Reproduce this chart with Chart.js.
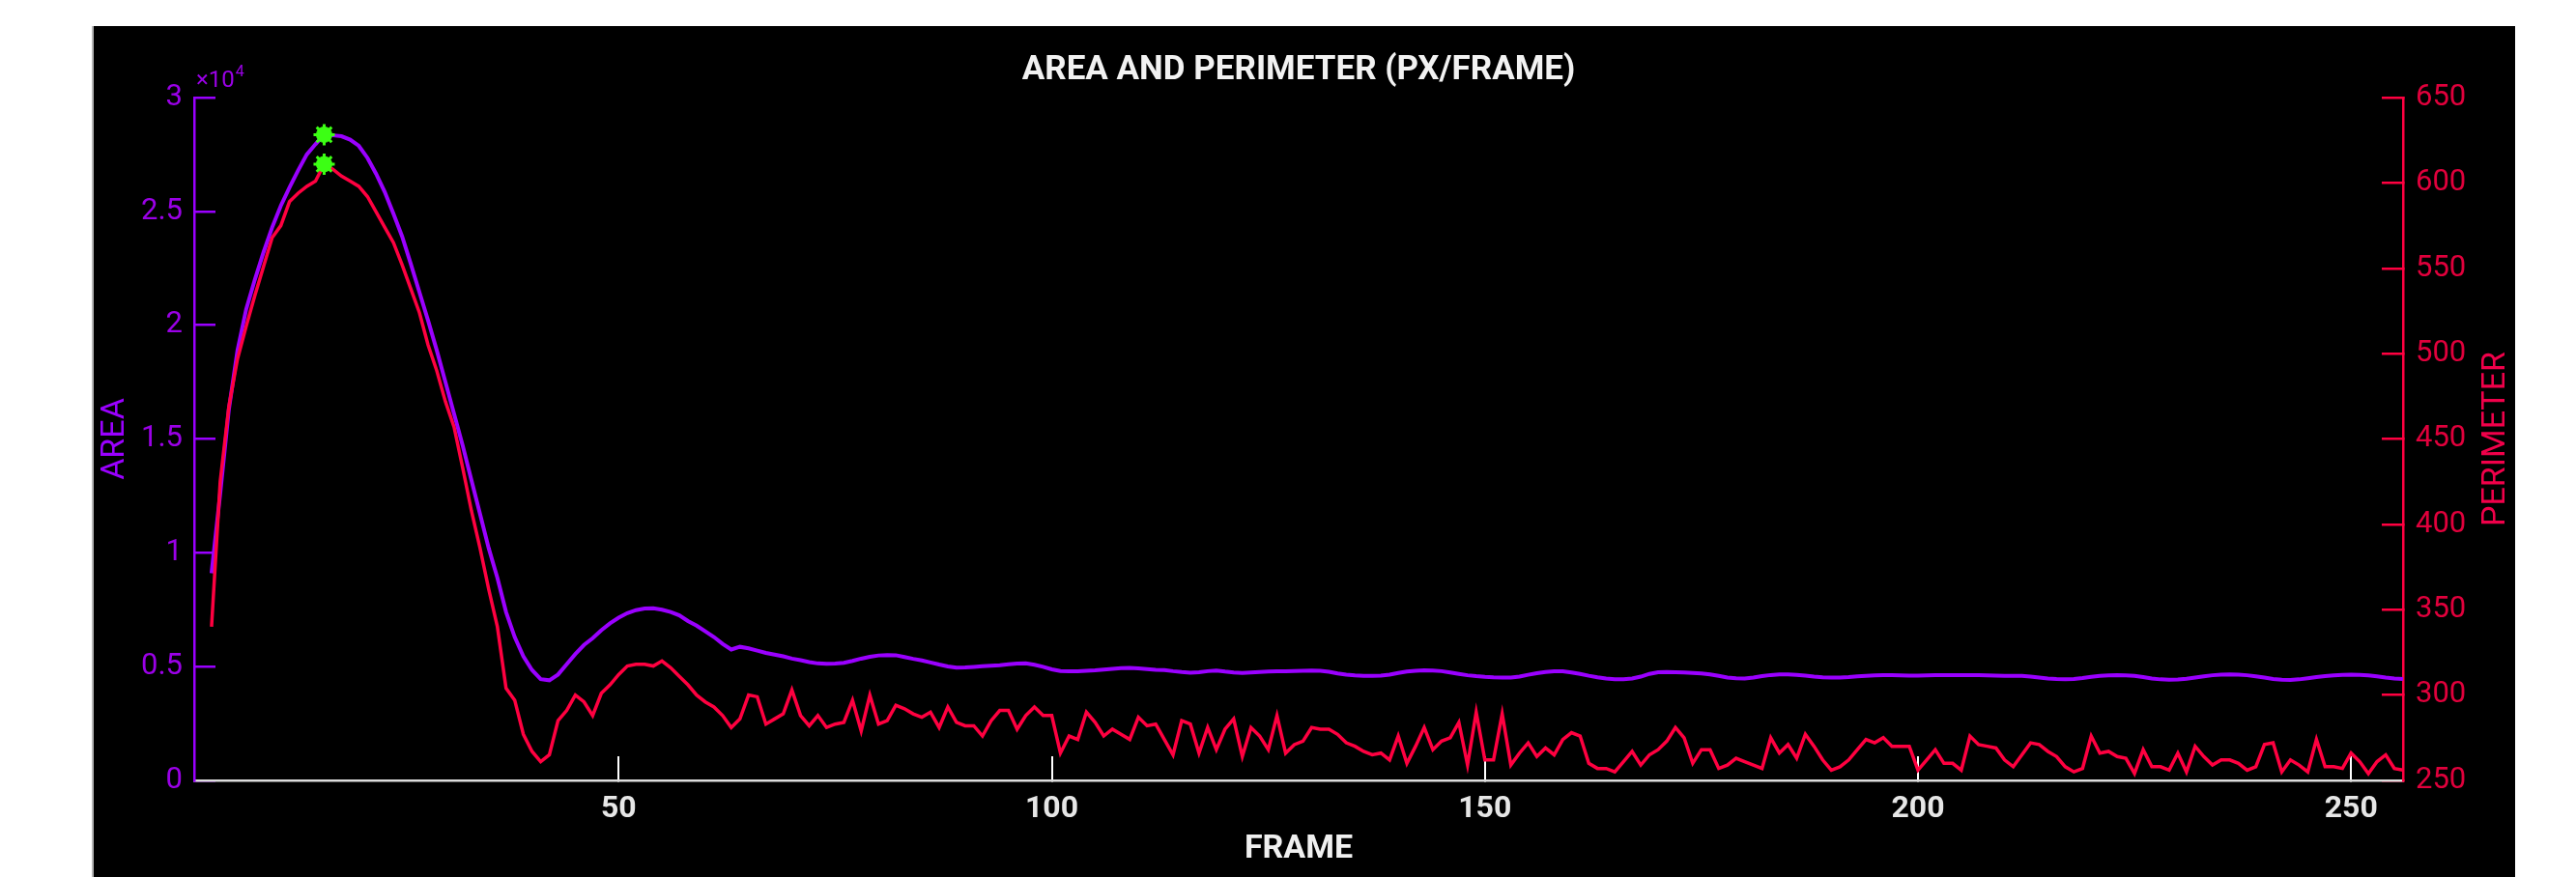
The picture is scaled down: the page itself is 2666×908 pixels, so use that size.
<!DOCTYPE html>
<html>
<head>
<meta charset="utf-8">
<script src="https://cdn.jsdelivr.net/npm/chart.js@4.4.0/dist/chart.umd.min.js"></script>
<style>
    html, body { margin: 0; padding: 0; background: #fff; }
    #wrap { width: 2666px; height: 908px; }
</style>
</head>
<body>
<div id="wrap"><canvas id="chart" width="2666" height="908"></canvas></div>
<script>
// frame number of the first sample
const firstFrame = 3;

// area per frame (px), frames 3..256
const areaValues = [
    9100, 12600, 16300, 18900, 20700, 22000, 23200, 24300, 25250, 26050,
    26800, 27500, 27950, 28370, 28340, 28300, 28150, 27880, 27350, 26650,
    25850, 24900, 23900, 22700, 21450, 20200, 18900, 17500, 16100, 14700,
    13200, 11700, 10200, 8900, 7400, 6300, 5450, 4850, 4450, 4400,
    4650, 5100, 5550, 5950, 6250, 6600, 6900, 7150, 7350, 7480,
    7550, 7560, 7500, 7400, 7250, 7000, 6800, 6550, 6300, 6000,
    5750, 5870, 5800, 5700, 5600, 5530, 5450, 5350, 5280, 5200,
    5140, 5120, 5130, 5170, 5250, 5350, 5430, 5490, 5510, 5500,
    5420, 5340, 5270, 5180, 5090, 5010, 4950, 4960, 4990, 5020,
    5040, 5060, 5100, 5130, 5140, 5080, 4990, 4880, 4810, 4790,
    4800, 4820, 4840, 4870, 4900, 4930, 4940, 4920, 4890, 4860,
    4850, 4800, 4760, 4730, 4750, 4800, 4830, 4780, 4740, 4720,
    4740, 4760, 4780, 4790, 4800, 4810, 4820, 4830, 4820, 4770,
    4700, 4650, 4610, 4590, 4590, 4600, 4650, 4720, 4780, 4820,
    4840, 4830, 4800, 4740, 4680, 4620, 4580, 4550, 4530, 4520,
    4520, 4560, 4640, 4710, 4760, 4790, 4790, 4740, 4680, 4600,
    4530, 4480, 4450, 4450, 4480, 4560, 4680, 4750, 4760, 4750,
    4740, 4720, 4700, 4660, 4590, 4520, 4490, 4480, 4520, 4580,
    4630, 4660, 4660, 4640, 4600, 4560, 4530, 4520, 4520, 4540,
    4570, 4590, 4610, 4620, 4620, 4610, 4600, 4600, 4610, 4620,
    4620, 4620, 4620, 4620, 4620, 4610, 4600, 4590, 4590, 4590,
    4560, 4520, 4480, 4460, 4450, 4460, 4500, 4550, 4590, 4610,
    4620, 4610, 4590, 4540, 4480, 4440, 4420, 4430, 4470, 4520,
    4570, 4620, 4650, 4660, 4650, 4620, 4570, 4520, 4460, 4420,
    4410, 4440, 4490, 4540, 4580, 4610, 4640, 4650, 4640, 4610,
    4570, 4520, 4480, 4450
];

// perimeter per frame (px), frames 3..256
const perimeterValues = [
    340, 425, 469, 497, 516, 534, 551, 568, 575, 589,
    594, 598, 601, 611, 608, 604, 601, 598, 592, 583,
    574, 565, 552, 538, 524, 505, 490, 472, 457, 433,
    408, 386, 362, 340, 304, 297, 277, 267, 261, 265,
    285, 291, 300, 296, 288, 301, 306, 312, 317, 318,
    318, 317, 320, 316, 311, 306, 300, 296, 293, 288,
    281, 286, 300, 299, 283, 286, 289, 303, 288, 282,
    288, 281, 283, 284, 297, 279, 300, 283, 285, 294,
    292, 289, 287, 290, 281, 293, 284, 282, 282, 276,
    285, 291, 291, 280, 288, 293, 288, 288, 266, 276,
    274, 290, 284, 276, 280, 277, 274, 287, 282, 283,
    274, 265, 285, 283, 266, 281, 268, 280, 286, 264,
    281, 276, 268, 288, 266, 271, 273, 281, 280, 280,
    277, 272, 270, 267, 265, 266, 262, 276, 260, 270,
    281, 268, 273, 275, 284, 259, 290, 262, 262, 289,
    259, 266, 272, 264, 269, 265, 274, 278, 276, 260,
    257, 257, 255, 261, 267, 259, 265, 268, 273, 281,
    275, 260, 268, 268, 257, 259, 263, 261, 259, 257,
    275, 266, 271, 263, 277, 270, 262, 256, 258, 262,
    268, 274, 272, 275, 270, 270, 270, 256, 262, 268,
    260, 260, 256, 276, 271, 270, 269, 262, 258, 265,
    272, 271, 267, 264, 258, 255, 257, 276, 266, 267,
    264, 263, 254, 268, 258, 258, 256, 266, 255, 270,
    264, 259, 262, 262, 260, 256, 258, 271, 272, 255,
    262, 259, 255, 274, 258, 258, 257, 266, 261, 254,
    261, 265, 257, 256
];

// axis ranges and tick steps
const frameRange = [1, 256];
const frameStep = 50;
const areaRange = [0, 30000];
const areaStep = 5000;
const perimeterRange = [250, 650];
const perimeterStep = 50;

const PURPLE = '#9a00ff';
const PURPLE_TXT = '#9a00e6';
const RED = '#ff0040';
const RED_TXT = '#e0003c';
const GREEN = '#3cff14';
const FONT = 'Roboto';

function toPoints(values) {
    return values.map((v, i) => ({ x: firstFrame + i, y: v }));
}

function peakPoint(values) {
    let best = 0;
    for (let i = 1; i < values.length; i++) {
        if (values[i] > values[best]) best = i;
    }
    return [{ x: firstFrame + best, y: values[best] }];
}

// black figure panel behind the axes
const panelPlugin = {
    id: 'panel',
    beforeDraw(chart) {
        const ctx = chart.ctx;
        ctx.save();
        ctx.fillStyle = '#ffffff';
        ctx.fillRect(0, 0, chart.width, chart.height);
        ctx.fillStyle = '#000000';
        ctx.fillRect(97, 27, 2506, 881);
        ctx.fillStyle = '#b4b4b4';
        ctx.fillRect(95, 27, 2, 881);
        ctx.restore();
    }
};

// "x10^4" exponent above the area axis, and the PERIMETER title read bottom-up
const extrasPlugin = {
    id: 'extras',
    afterDraw(chart) {
        const ctx = chart.ctx;
        const { left, top, bottom } = chart.chartArea;
        ctx.save();
        ctx.fillStyle = PURPLE_TXT;
        ctx.textBaseline = 'alphabetic';
        ctx.font = '24px ' + FONT;
        ctx.fillText('\u00d710', left + 2, top - 11);
        const w = ctx.measureText('\u00d710').width;
        ctx.font = '16px ' + FONT;
        ctx.fillText('4', left + 3 + w, top - 22);

        const yP = chart.scales.yP;
        ctx.translate(yP.right - 83, (top + bottom) / 2);
        ctx.rotate(-Math.PI / 2);
        ctx.fillStyle = '#f0004a';
        ctx.font = '34px ' + FONT;
        ctx.textAlign = 'center';
        ctx.textBaseline = 'middle';
        ctx.fillText('PERIMETER', 0, 0);
        ctx.restore();
    }
};

const ctx = document.getElementById('chart').getContext('2d');
new Chart(ctx, {
    type: 'line',
    data: {
        datasets: [
            {
                label: 'Area peak',
                data: peakPoint(areaValues),
                yAxisID: 'yA',
                showLine: false,
                pointStyle: 'circle',
                pointRadius: 8,
                pointBackgroundColor: GREEN,
                pointBorderColor: GREEN,
                pointBorderWidth: 1,
                order: 0
            },
            {
                label: 'Area peak star',
                data: peakPoint(areaValues),
                yAxisID: 'yA',
                showLine: false,
                pointStyle: 'star',
                pointRadius: 11,
                pointBorderColor: GREEN,
                pointBorderWidth: 3,
                order: 0
            },
            {
                label: 'Perimeter peak',
                data: peakPoint(perimeterValues),
                yAxisID: 'yP',
                showLine: false,
                pointStyle: 'circle',
                pointRadius: 8,
                pointBackgroundColor: GREEN,
                pointBorderColor: GREEN,
                pointBorderWidth: 1,
                order: 0
            },
            {
                label: 'Perimeter peak star',
                data: peakPoint(perimeterValues),
                yAxisID: 'yP',
                showLine: false,
                pointStyle: 'star',
                pointRadius: 11,
                pointBorderColor: GREEN,
                pointBorderWidth: 3,
                order: 0
            },
            {
                label: 'Perimeter',
                data: toPoints(perimeterValues),
                yAxisID: 'yP',
                borderColor: RED,
                borderWidth: 3.5,
                pointRadius: 0,
                tension: 0,
                order: 1
            },
            {
                label: 'Area',
                data: toPoints(areaValues),
                yAxisID: 'yA',
                borderColor: PURPLE,
                borderWidth: 4,
                pointRadius: 0,
                tension: 0,
                order: 2
            }
        ]
    },
    options: {
        responsive: false,
        animation: false,
        devicePixelRatio: 1,
        layout: { padding: 0 },
        plugins: {
            legend: { display: false },
            tooltip: { enabled: false },
            title: {
                display: true,
                fullSize: false,
                text: 'AREA AND PERIMETER (PX/FRAME)',
                color: '#f2f2f2',
                font: { family: FONT, size: 35, weight: 'bold' },
                padding: { top: 52, bottom: 7 }
            }
        },
        scales: {
            x: {
                type: 'linear',
                position: 'bottom',
                min: frameRange[0],
                max: frameRange[1],
                ticks: {
                    stepSize: frameStep,
                    includeBounds: false,
                    color: '#e6e6e6',
                    font: { family: FONT, size: 32, weight: 'bold' },
                    padding: 36,
                    maxRotation: 0
                },
                grid: {
                    drawOnChartArea: false,
                    drawTicks: true,
                    tickLength: -25,
                    color: '#ffffff',
                    lineWidth: 2
                },
                border: { color: '#dcdcdc', width: 2.5 },
                title: {
                    display: true,
                    text: 'FRAME',
                    color: '#f0f0f0',
                    font: { family: FONT, size: 34, weight: 'bold' },
                    padding: { top: 0, bottom: 8 }
                },
                afterFit(scale) { scale.height = 100; }
            },
            yA: {
                type: 'linear',
                position: 'left',
                min: areaRange[0],
                max: areaRange[1],
                ticks: {
                    stepSize: areaStep,
                    color: PURPLE_TXT,
                    font: { family: FONT, size: 31 },
                    padding: 34,
                    callback: (v) => String(v / 10000)
                },
                grid: {
                    drawOnChartArea: false,
                    drawTicks: true,
                    tickLength: -22,
                    color: PURPLE,
                    lineWidth: 2.5
                },
                border: { color: PURPLE, width: 2.5 },
                title: {
                    display: true,
                    text: 'AREA',
                    color: PURPLE,
                    font: { family: FONT, size: 34 },
                    padding: { top: 99, bottom: 0 }
                },
                afterFit(scale) { scale.width = 201; }
            },
            yP: {
                type: 'linear',
                position: 'right',
                min: perimeterRange[0],
                max: perimeterRange[1],
                ticks: {
                    stepSize: perimeterStep,
                    color: RED_TXT,
                    font: { family: FONT, size: 31 },
                    padding: 35
                },
                grid: {
                    drawOnChartArea: false,
                    drawTicks: true,
                    tickLength: -22,
                    color: RED,
                    lineWidth: 2.5
                },
                border: { color: RED, width: 2.5 },
                title: { display: false },
                afterFit(scale) { scale.width = 179; }
            }
        }
    },
    plugins: [panelPlugin, extrasPlugin]
});
</script>
</body>
</html>
